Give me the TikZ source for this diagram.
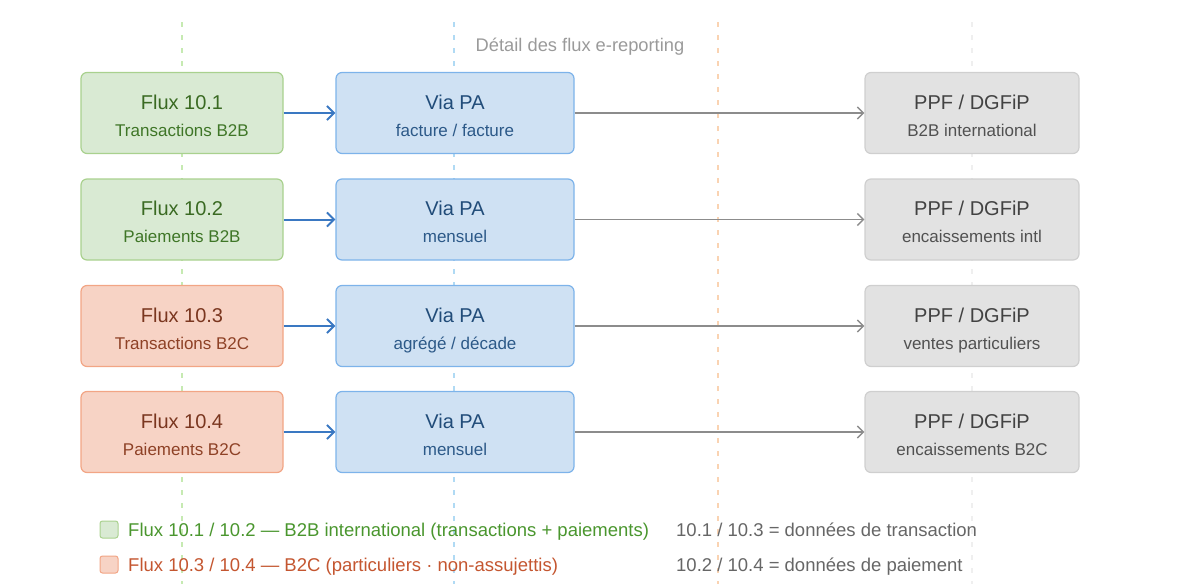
\documentclass[tikz,border=0pt]{standalone}
\usepackage{fontspec}
\setmainfont{Liberation Sans}
\usetikzlibrary{arrows.meta}
\definecolor{gfill}{HTML}{D9EAD3}\definecolor{gdraw}{HTML}{A9D18E}\definecolor{gtext}{HTML}{3A6A22}\definecolor{gsub}{HTML}{3F7627}
\definecolor{ofill}{HTML}{F7D3C5}\definecolor{odraw}{HTML}{F2A585}\definecolor{otext}{HTML}{7A361F}\definecolor{osub}{HTML}{8E4126}
\definecolor{bfill}{HTML}{CFE1F3}\definecolor{bdraw}{HTML}{7DB3EA}\definecolor{btext}{HTML}{214C79}\definecolor{bsub}{HTML}{2C5988}
\definecolor{pfill}{HTML}{E2E2E2}\definecolor{pdraw}{HTML}{CFCFCF}\definecolor{ptext}{HTML}{424242}\definecolor{psub}{HTML}{515151}
\definecolor{barrow}{HTML}{3A78C2}\definecolor{parrow}{HTML}{8C8C8C}
\definecolor{lgreen}{HTML}{4A962E}\definecolor{lorange}{HTML}{C45630}\definecolor{lgray}{HTML}{666666}
\definecolor{ttl}{HTML}{9A9A9A}
\definecolor{lanegreen}{HTML}{C6EAB2}\definecolor{laneblue}{HTML}{B0DAF4}\definecolor{laneorange}{HTML}{FAD3B2}\definecolor{lanegray}{HTML}{EFEFEF}
\tikzset{
  box/.style={rectangle, rounded corners=6pt, line width=1.2pt, inner sep=0pt, minimum height=81pt},
  c1box/.style={box, minimum width=202pt},
  c2box/.style={box, minimum width=238pt, fill=bfill, draw=bdraw},
  c3box/.style={box, minimum width=214pt, fill=pfill, draw=pdraw},
  grn/.style={fill=gfill, draw=gdraw},
  org/.style={fill=ofill, draw=odraw},
  ttext/.style={anchor=base, inner sep=0pt, font=\fontsize{20}{24}\selectfont},
  stext/.style={anchor=base, inner sep=0pt, font=\fontsize{17}{20}\selectfont},
  lane/.style={line width=1.6pt, dash pattern=on 5pt off 8pt},
  barr/.style={draw=barrow, line width=2pt, -{Straight Barb[length=7pt,width=14pt,line width=2pt]}},
  parr/.style={draw=parrow, line width=1.5pt, -{Straight Barb[length=6pt,width=12pt,line width=1.5pt]}},
  legtext/.style={anchor=base west, inner sep=0pt, font=\fontsize{18.5}{22}\selectfont},
  legsq/.style={rectangle, rounded corners=2.5pt, line width=1pt, minimum width=18pt, minimum height=17pt, inner sep=0pt}
}
\begin{document}
\begin{tikzpicture}[x=1pt,y=-1pt]
\useasboundingbox (0,0) rectangle (1191,584);
% lanes
\coordinate (l1t) at (182,22); \coordinate (l1b) at (182,584);
\coordinate (l2t) at (454,22); \coordinate (l2b) at (454,584);
\coordinate (l3t) at (718,22); \coordinate (l3b) at (718,584);
\coordinate (l4t) at (972,22); \coordinate (l4b) at (972,584);
\draw[lane, draw=lanegreen] (l1t) -- (l1b);
\draw[lane, draw=laneblue] (l2t) -- (l2b);
\draw[lane, draw=laneorange] (l3t) -- (l3b);
\draw[lane, draw=lanegray] (l4t) -- (l4b);
% title
\node[anchor=base, inner sep=0pt, text=ttl, font=\fontsize{18.3}{22}\selectfont] (title) at (580,51) {Détail des flux e-reporting};
% rows
\foreach \i/\y/\st/\tc/\sc/\ta/\tb/\pb/\pp in {
  1/113/grn/gtext/gsub/{Flux 10.1}/{Transactions B2B}/{facture / facture}/{B2B international},
  2/219.5/grn/gtext/gsub/{Flux 10.2}/{Paiements B2B}/{mensuel}/{encaissements intl},
  3/326/org/otext/osub/{Flux 10.3}/{Transactions B2C}/{agrégé / décade}/{ventes particuliers},
  4/432/org/otext/osub/{Flux 10.4}/{Paiements B2C}/{mensuel}/{encaissements B2C}}{
  \node[c1box, \st] (a\i) at (182,\y) {};
  \node[c2box] (b\i) at (455,\y) {};
  \node[c3box] (c\i) at (972,\y) {};
  \node[ttext, text=\tc] (at\i) at ([yshift=4pt]a\i.center) {\ta};
  \node[stext, text=\sc] (as\i) at ([yshift=-23pt]a\i.center) {\tb};
  \node[ttext, text=btext] (bt\i) at ([yshift=4pt]b\i.center) {Via PA};
  \node[stext, text=bsub] (bs\i) at ([yshift=-23pt]b\i.center) {\pb};
  \node[ttext, text=ptext] (ct\i) at ([yshift=4pt]c\i.center) {PPF / DGFiP};
  \node[stext, text=psub] (cs\i) at ([yshift=-23pt]c\i.center) {\pp};
  \draw[barr] (a\i.east) -- (b\i.west);
  \draw[parr] (b\i.east) -- (c\i.west);
}
% legend
\node[legsq, fill=gfill, draw=gdraw] (lg1) at (109,529.5) {};
\node[legsq, fill=ofill, draw=odraw] (lg2) at (109,564.5) {};
\node[legtext, text=lgreen] (lt1) at (128,536) {Flux 10.1 / 10.2 — B2B international (transactions + paiements)};
\node[legtext, text=lorange] (lt2) at (128,571) {Flux 10.3 / 10.4 — B2C (particuliers · non-assujettis)};
\node[legtext, text=lgray] (lr1) at (676,536) {10.1 / 10.3 = données de transaction};
\node[legtext, text=lgray] (lr2) at (676,571) {10.2 / 10.4 = données de paiement};
\end{tikzpicture}
\end{document}
